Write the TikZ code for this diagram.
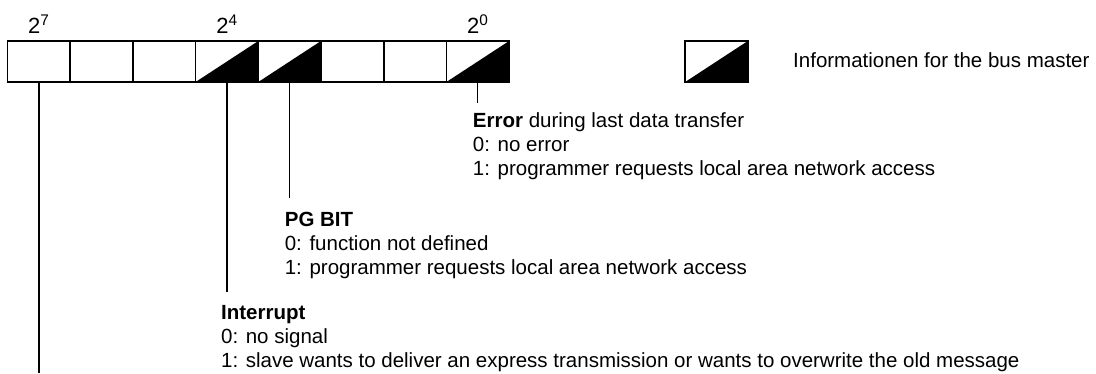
\documentclass[tikz,border=0pt]{standalone}
\usepackage{fontspec}
\setmainfont{Liberation Sans}
\usetikzlibrary{positioning, calc}
\tikzset{
	bitcell/.style ={rectangle, draw=black, line width=1.6pt, minimum width=62.7pt, minimum height=41pt, inner sep=0pt, outer sep=0pt},
	pointer/.style ={line width=1.4pt},
	bitdesc/.style ={anchor=north west, align=left, inner sep=0pt, font=\fontsize{20.5}{24}\selectfont},
	weight/.style  ={anchor=base, inner sep=0pt, font=\fontsize{22}{26}\selectfont},
}
% lower right half of a cell in black
\newcommand{\infohalf}[1]{\fill (#1.south west) -- (#1.north east) -- (#1.south east) -- cycle;}

\begin{document}
\begin{tikzpicture}[x=1pt, y=-1pt]
	\useasboundingbox (0,0) rectangle (1096,373);
	% register, bit 7 on the left
	\foreach \b [count=\i from 0] in {7,6,5,4,3,2,1,0}
		\node[bitcell] (b\b) at (38.85+62.7*\i, 61.5) {};
	\infohalf{b4} \infohalf{b3} \infohalf{b0}
	\node[weight] (w7) at ($(b7.north)+(0,-8)$) {2\textsuperscript{7}};
	\node[weight] (w4) at ($(b4.north)+(0,-8)$) {2\textsuperscript{4}};
	\node[weight] (w0) at ($(b0.north)+(0,-8)$) {2\textsuperscript{0}};
	% key
	\node[bitcell] (key) at (716.5,61.5) {};
	\infohalf{key}
	\node[anchor=base west, inner sep=0pt, font=\fontsize{20.5}{24}\selectfont] (keytext) at (793,67) {Informationen for the bus master};
	% pointers and descriptions
	\coordinate (e0) at ($(b0.south)+(0,21)$);
	\coordinate (e3) at ($(b3.south)+(0,116)$);
	\coordinate (e4) at ($(b4.south)+(0,210)$);
	\coordinate (e7) at ($(b7.south)+(0,291)$);
	\draw[pointer] (b0.south) -- (e0);
	\draw[pointer] (b3.south) -- (e3);
	\draw[pointer] (b4.south) -- (e4);
	\draw[pointer] (b7.south) -- (e7);
	\node[bitdesc] (err) at ($(e0)+(-5,9)$) {\textbf{Error} during last data transfer\\0: no error\\1: programmer requests local area network access};
	\node[bitdesc] (pg) at ($(e3)+(-5,14)$) {\textbf{PG BIT}\\0: function not defined\\1: programmer requests local area network access};
	\node[bitdesc] (intr) at ($(e4)+(-6,13)$) {\textbf{Interrupt}\\0: no signal\\1: slave wants to deliver an express transmission or wants to overwrite the old message};
\end{tikzpicture}
\end{document}
